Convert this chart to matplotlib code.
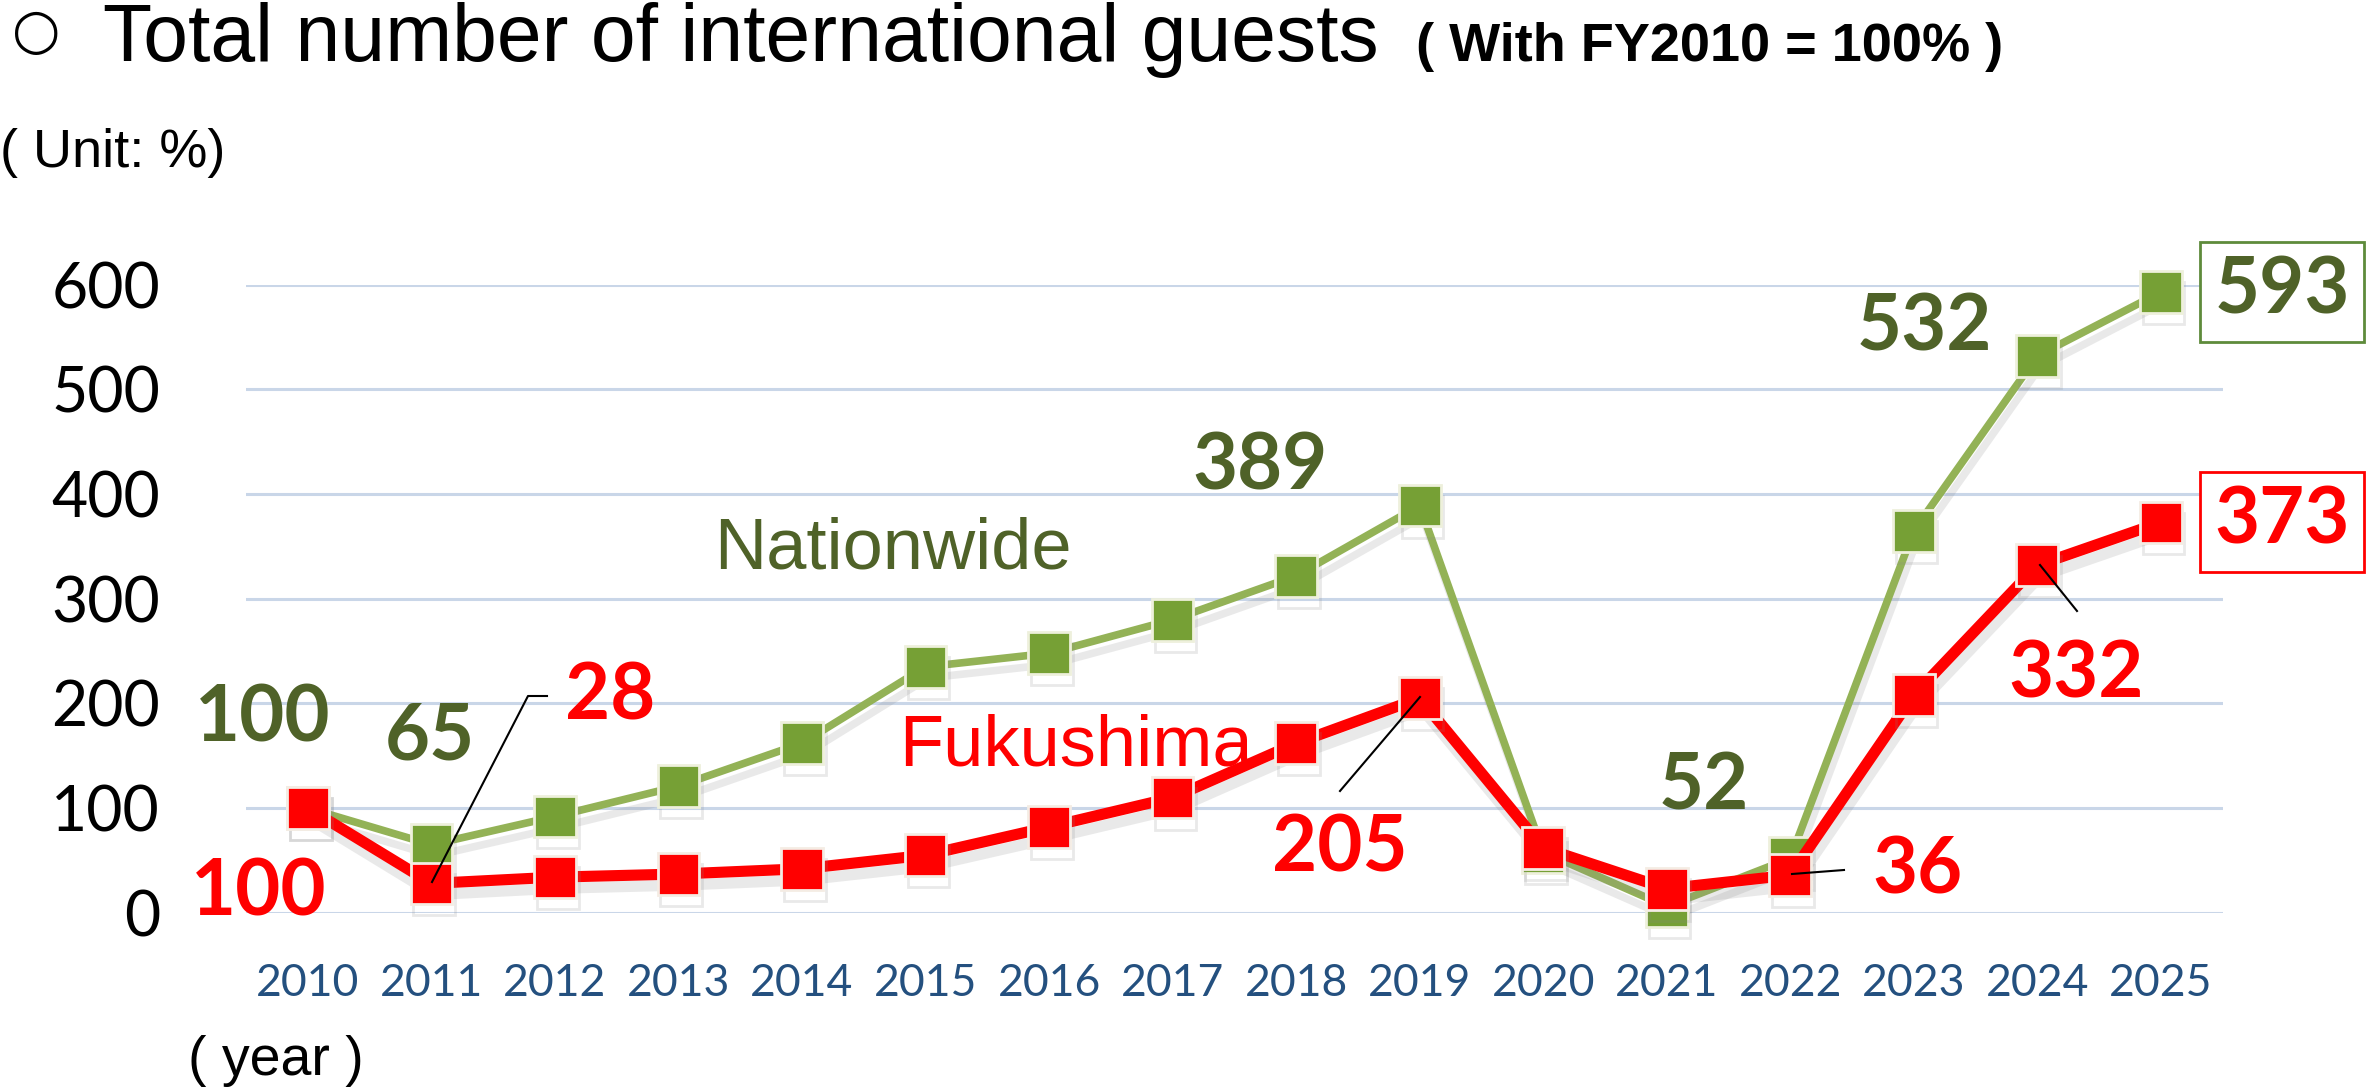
import numpy as np
import matplotlib.pyplot as plt
import matplotlib.patheffects as pe

# data (FY2010 = 100)
years = [str(y) for y in range(2010, 2026)]
nationwide = [100, 65, 92, 121, 162, 235, 248, 280, 322, 389, 58, 6, 52, 365, 532, 593]
fukushima = [100, 28, 34, 37, 42, 55, 82, 110, 162, 205, 62, 23, 36, 208, 332, 373]
y_ticks = [0, 100, 200, 300, 400, 500, 600]

GREEN_LINE = "#93B256"
GREEN_MARK = "#76A035"
GREEN_TEXT = "#4F6228"
RED = "#FF0000"
ARIAL = ["Liberation Sans", "DejaVu Sans"]
CAL = ["Lato", "DejaVu Sans"]

fig = plt.figure(figsize=(23.67, 10.87), dpi=100)
ax = fig.add_axes([0.104, 0.1603, 0.835, 0.5777])
x = np.arange(len(years))

shadow = [pe.SimpleLineShadow(offset=(2, -8), shadow_color="#888888", alpha=0.18), pe.Normal()]

ax.plot(x, nationwide, color=GREEN_LINE, lw=5.5, marker="s", ms=30, mfc=GREEN_MARK,
        mec="#EEF0DC", mew=2, clip_on=False, zorder=3, path_effects=shadow)
ax.plot(x, fukushima, color=RED, lw=8, marker="s", ms=30, mfc=RED,
        mec="#F4ECE4", mew=2, clip_on=False, zorder=4, path_effects=shadow)

ax.set_xlim(-0.5, 15.5)
ax.set_ylim(0, 600)
ax.set_yticks(y_ticks)
ax.set_xticks(x)
ax.set_xticklabels(years)
ax.grid(axis="y", color="#C9D6E8", lw=2.2)
ax.set_axisbelow(True)
for s in ax.spines.values():
    s.set_visible(False)
ax.tick_params(length=0)
ax.tick_params(axis="y", pad=62, labelsize=45)
ax.tick_params(axis="x", pad=36, labelsize=32, labelcolor="#24507F")
for lab in ax.get_yticklabels():
    lab.set_fontfamily(CAL)
for lab in ax.get_xticklabels():
    lab.set_fontfamily(CAL)

# data labels (pixel positions)
def px(xp, yp):
    return xp / 2367, 1 - yp / 1087

def lab(txt, xp, yp, color, size=56, **kw):
    fig.text(*px(xp, yp), txt, color=color, fontsize=size, fontweight="bold",
             family=CAL, ha="center", va="center", **kw)

lab("100", 263, 719, GREEN_TEXT)
lab("65", 430, 738, GREEN_TEXT)
lab("389", 1260, 468, GREEN_TEXT)
lab("52", 1704, 788, GREEN_TEXT)
lab("532", 1924, 329, GREEN_TEXT)
lab("100", 259, 893, RED)
lab("28", 610, 697, RED)
lab("205", 1340, 850, RED)
lab("36", 1918, 872, RED)
lab("332", 2076, 676, RED)

fig.text(*px(2282, 292), "593", color=GREEN_TEXT, fontsize=56, fontweight="bold", family=CAL,
         ha="center", va="center",
         bbox=dict(boxstyle="square,pad=0.18", fc="white", ec="#5E8B3B", lw=2))
fig.text(*px(2282, 522), "373", color=RED, fontsize=56, fontweight="bold", family=CAL,
         ha="center", va="center",
         bbox=dict(boxstyle="square,pad=0.18", fc="white", ec=RED, lw=2))

# leader lines
def leader(pts):
    xs = [p[0] / 2367 for p in pts]
    ys = [1 - p[1] / 1087 for p in pts]
    fig.add_artist(plt.Line2D(xs, ys, color="black", lw=1.5, zorder=10))

leader([(432, 882), (528, 696), (547, 696)])
leader([(1420, 697), (1340, 791)])
leader([(1792, 874), (1844, 870)])
leader([(2040, 565), (2077, 611)])

# series names
fig.text(*px(893, 568), "Nationwide", color=GREEN_TEXT, fontsize=52, family=ARIAL,
         ha="center", va="baseline")
fig.text(*px(899, 765), "Fukushima", color=RED, fontsize=52, family=ARIAL,
         ha="left", va="baseline")

# title and units
fig.text(*px(36, 33), "○", fontsize=40, fontweight="bold", family=["DejaVu Sans"],
         ha="center", va="center")
fig.text(*px(103, 61), "Total number of international guests", fontsize=58,
         family=ARIAL, va="baseline")
fig.text(*px(1416, 61), "( With FY2010 = 100% )", fontsize=39, fontweight="bold",
         family=ARIAL, va="baseline")
fig.text(*px(0, 167), "( Unit: %)", fontsize=39, family=ARIAL, va="baseline")
fig.text(*px(188, 1075), "( year )", fontsize=40, family=ARIAL, va="baseline")

fig.savefig("out.png", dpi=100)
